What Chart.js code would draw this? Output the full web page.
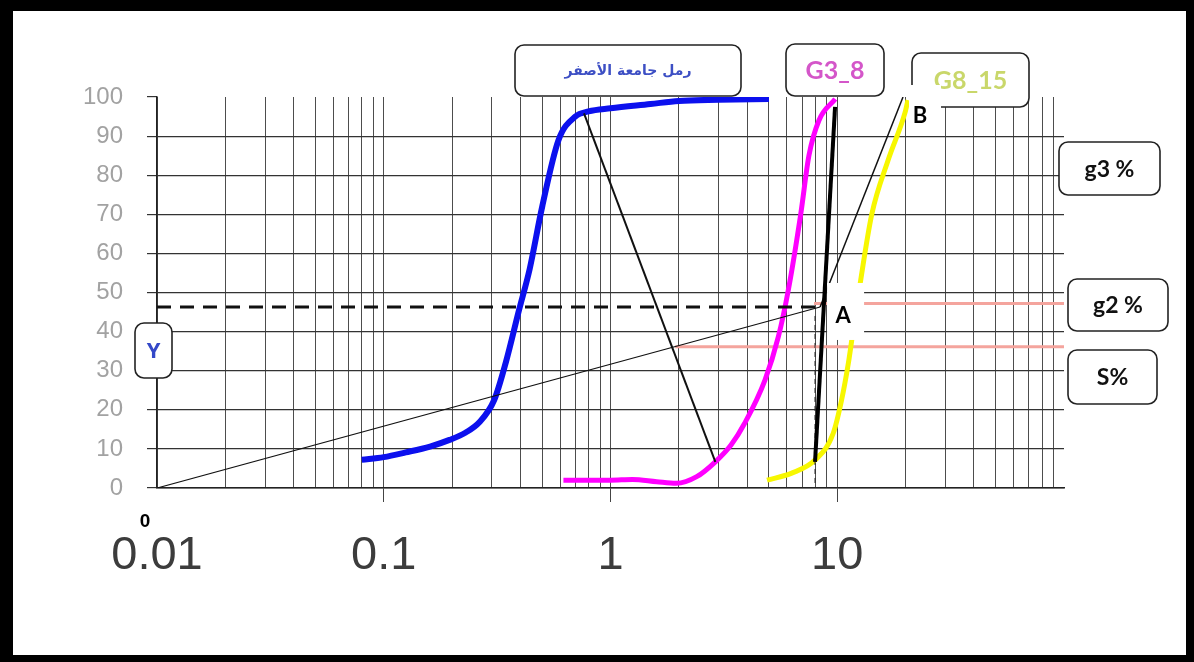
<!DOCTYPE html>
<html>
<head>
<meta charset="utf-8">
<script src="https://cdn.jsdelivr.net/npm/chart.js@4.4.1/dist/chart.umd.min.js"></script>
<style>
    html, body { margin: 0; padding: 0; background: #fff; }
    #grafico { display: block; }
</style>
</head>
<body>
<canvas id="grafico" width="1194" height="662"></canvas>
<script>
// Curvas granulométricas (diámetro en mm, % que pasa)
const arenaX = [0.08, 0.1, 0.125, 0.16, 0.195, 0.23, 0.264, 0.307, 0.345, 0.395, 0.44, 0.5, 0.59, 0.7, 0.8, 1.0, 1.5, 2.0, 3.0, 5.0];
const arenaY = [7.2, 7.9, 9.1, 10.6, 12.3, 14.2, 16.8, 22.5, 32, 45.5, 56, 72, 89, 95, 96.3, 97.1, 98.2, 99, 99.3, 99.5];

const g38X = [0.62, 0.8, 1.0, 1.25, 1.6, 1.95, 2.4, 2.9, 3.4, 3.9, 4.8, 5.5, 6.1, 6.9, 7.5, 8.3, 9.8];
const g38Y = [2, 2, 2, 2.2, 1.6, 1.2, 2.9, 6.7, 11, 16.5, 27.6, 38.7, 51, 70, 85, 94, 99.5];

const g815X = [4.9, 6.3, 8.0, 9.6, 10.45, 11.2, 11.6, 12.6, 14.2, 16.8, 19.9, 20.5];
const g815Y = [2, 3.8, 7.2, 14, 22.5, 32, 38, 52, 70, 84, 96, 99.2];

// Construcción gráfica
const puntoA = { x: 8.4, y: 46.3 };
const puntoB = { x: 19.5, y: 100 };
const origen = { x: 0.01, y: 0 };
const cruceInicio = { x: 0.764, y: 95.8 };
const cruceFin = { x: 2.9, y: 6.7 };
const gruesaInicio = { x: 7.98, y: 6.7 };
const gruesaFin = { x: 9.78, y: 97.5 };
const nivelG2 = 47.2;
const nivelS = 36.1;
const inicioS = 1.93;

// Ejes
const decadas = [0.01, 0.1, 1, 10];
const multiplos = [1, 2, 3, 4, 5, 6, 7, 8, 9];
const etiquetasX = ['0.01', '0.1', '1', '10'];

const lineasX = [];
decadas.forEach(d => multiplos.forEach(m => lineasX.push(parseFloat((d * m).toPrecision(3)))));
lineasX.push(100);

function pares(xs, ys) {
    return xs.map((x, i) => ({ x: x, y: ys[i] }));
}

function indiceMayor(v) {
    return decadas.findIndex(d => Math.abs(d - v) / d < 1e-6);
}

const transparente = 'rgba(0,0,0,0)';

function linea(datos, color, ancho, extra) {
    return Object.assign({
        data: datos,
        showLine: true,
        borderColor: color,
        backgroundColor: color,
        borderWidth: ancho,
        pointRadius: 0,
        fill: false
    }, extra || {});
}

const datasets = [
    linea([gruesaInicio, gruesaFin], '#000', 4),
    linea([cruceInicio, cruceFin], '#111', 2),
    linea([puntoA, puntoB], '#111', 1.5),
    linea([origen, puntoA], '#111', 1.2),
    linea([{ x: 0.01, y: puntoA.y }, { x: 8.1, y: puntoA.y }], '#111', 3, { borderDash: [14, 9] }),
    linea([{ x: gruesaInicio.x, y: 44 }, { x: gruesaInicio.x, y: 0 }], '#222', 1, { borderDash: [5, 4] }),
    linea(pares(arenaX, arenaY), '#0c10ee', 6, { cubicInterpolationMode: 'monotone' }),
    linea(pares(g38X, g38Y), '#ff00ff', 5, { cubicInterpolationMode: 'monotone' }),
    linea(pares(g815X, g815Y), '#f7f700', 5, { cubicInterpolationMode: 'monotone' }),
    linea([{ x: 7.9, y: nivelG2 }, { x: 100, y: nivelG2 }], '#f4a49d', 3),
    linea([{ x: inicioS, y: nivelS }, { x: 100, y: nivelS }], '#f4a49d', 3)
];

// Cuadros de texto
const cajas = [
    { texto: 'رمل جامعة الأصفر', x: 515, y: 45, w: 226, h: 51, color: '#3d4fc4', fuente: 'bold 14px "DejaVu Sans"' },
    { texto: 'G3_8', x: 786, y: 44, w: 98, h: 52, color: '#d456c9', fuente: 'bold 25px Lato' },
    { texto: 'G8_15', x: 912, y: 53, w: 117, h: 54, color: '#c9d76a', fuente: 'bold 25px Lato' },
    { texto: 'g3 %', x: 1059, y: 142, w: 101, h: 53, color: '#111', fuente: 'bold 23px Lato' },
    { texto: 'g2 %', x: 1068, y: 279, w: 100, h: 52, color: '#111', fuente: 'bold 23px Lato' },
    { texto: 'S%', x: 1068, y: 350, w: 89, h: 54, color: '#111', fuente: 'bold 23px Lato' },
    { texto: 'Y', x: 135, y: 323, w: 37, h: 55, color: '#3448c8', fuente: 'bold 22px "Open Sans"' }
];

function rectRedondo(ctx, x, y, w, h, r) {
    ctx.beginPath();
    ctx.moveTo(x + r, y);
    ctx.arcTo(x + w, y, x + w, y + h, r);
    ctx.arcTo(x + w, y + h, x, y + h, r);
    ctx.arcTo(x, y + h, x, y, r);
    ctx.arcTo(x, y, x + w, y, r);
    ctx.closePath();
}

const pluginCajas = {
    id: 'cajas',
    beforeDraw(chart) {
        const ctx = chart.ctx;
        ctx.save();
        ctx.fillStyle = '#fff';
        ctx.fillRect(0, 0, chart.width, chart.height);
        ctx.restore();
    },
    afterDraw(chart) {
        const ctx = chart.ctx;
        const sx = chart.scales.x;
        const sy = chart.scales.y;
        ctx.save();
        ctx.textAlign = 'center';
        ctx.textBaseline = 'middle';

        cajas.forEach(c => {
            rectRedondo(ctx, c.x, c.y, c.w, c.h, 9);
            ctx.fillStyle = '#fff';
            ctx.fill();
            ctx.lineWidth = 1.6;
            ctx.strokeStyle = '#222';
            ctx.stroke();
            ctx.fillStyle = c.color;
            ctx.font = c.fuente;
            ctx.fillText(c.texto, c.x + c.w / 2, c.y + c.h / 2 + 1);
        });

        // Etiqueta B
        const bx = sx.getPixelForValue(puntoB.x);
        const by = sy.getPixelForValue(puntoB.y);
        ctx.fillStyle = '#fff';
        ctx.fillRect(bx + 6, by - 12, 32, 44);
        ctx.fillStyle = '#000';
        ctx.font = 'bold 22px Lato';
        ctx.fillText('B', bx + 17, by + 19);

        // Etiqueta A
        const ax = sx.getPixelForValue(puntoA.x);
        const ay = sy.getPixelForValue(puntoA.y);
        ctx.fillStyle = '#fff';
        ctx.fillRect(ax + 7, ay - 24, 37, 57);
        ctx.fillStyle = '#000';
        ctx.font = 'bold 22px Lato';
        ctx.fillText('A', ax + 23, ay + 9);

        // Cero del origen
        ctx.font = 'bold 19px "Liberation Sans"';
        ctx.fillText('0', sx.getPixelForValue(origen.x) - 12, sy.getPixelForValue(origen.y) + 34);

        // Marco negro
        ctx.fillStyle = '#000';
        ctx.fillRect(0, 0, chart.width, 11);
        ctx.fillRect(0, 0, 13, chart.height);
        ctx.fillRect(chart.width - 8, 0, 8, chart.height);
        ctx.fillRect(0, chart.height - 7, chart.width, 7);
        ctx.restore();
    }
};

const ctx = document.getElementById('grafico').getContext('2d');
new Chart(ctx, {
    type: 'scatter',
    data: { datasets: datasets },
    options: {
        responsive: false,
        animation: false,
        devicePixelRatio: 1,
        layout: { padding: { left: 57, right: 130, top: 97, bottom: 74 } },
        plugins: {
            legend: { display: false },
            tooltip: { enabled: false }
        },
        scales: {
            x: {
                type: 'logarithmic',
                min: 0.01,
                max: 100,
                afterFit: s => { s.height = 100; },
                afterBuildTicks: s => { s.ticks = lineasX.map(v => ({ value: v })); },
                grid: {
                    color: c => (c.tick && c.tick.value >= 100) ? transparente : '#4d4d4d',
                    lineWidth: 1,
                    tickLength: 14,
                    tickColor: c => (c.tick && indiceMayor(c.tick.value) > 0) ? '#444' : transparente
                },
                border: { color: '#222', width: 1.5 },
                ticks: {
                    autoSkip: false,
                    maxRotation: 0,
                    padding: 26,
                    color: '#3c3c3c',
                    font: { family: '"Liberation Sans", Arial', size: 47, lineHeight: 1.2 },
                    callback: v => {
                        const i = indiceMayor(v);
                        return i >= 0 ? etiquetasX[i] : '';
                    }
                }
            },
            y: {
                min: 0,
                max: 100,
                afterFit: s => { s.width = 100; },
                grid: {
                    color: c => (c.tick && c.tick.value >= 100) ? transparente : '#333',
                    lineWidth: 1.2,
                    tickLength: 10,
                    tickColor: '#333'
                },
                border: { color: '#222', width: 1.5 },
                ticks: {
                    stepSize: 10,
                    padding: 24,
                    color: '#a2a2a2',
                    font: { family: '"Liberation Sans", Arial', size: 24 }
                }
            }
        }
    },
    plugins: [pluginCajas]
});
</script>
</body>
</html>
